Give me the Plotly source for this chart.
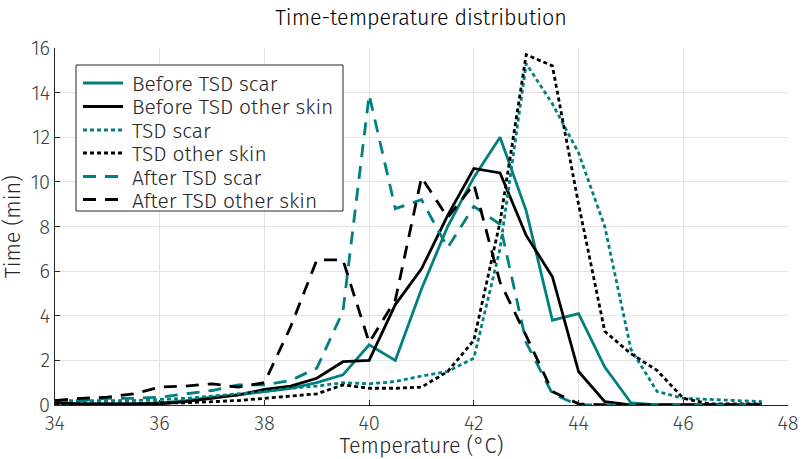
import plotly.graph_objects as go

temps = [34, 34.5, 35, 35.5, 36, 36.5, 37, 37.5, 38, 38.5, 39, 39.5, 40, 40.5,
         41, 41.5, 42, 42.5, 43, 43.5, 44, 44.5, 45, 45.5, 46, 46.5, 47, 47.5]

before_scar = [0.1, 0.05, 0.05, 0.05, 0.1, 0.2, 0.35, 0.45, 0.6, 0.75, 1.0, 1.35, 2.7, 2.0,
               5.2, 8.0, 10.2, 12.0, 8.7, 3.8, 4.1, 1.7, 0.1, 0.0, 0.0, 0.0, 0.0, 0.0]
before_other = [0.1, 0.05, 0.05, 0.05, 0.05, 0.15, 0.3, 0.45, 0.7, 0.85, 1.2, 1.94, 2.0, 4.5,
                6.1, 8.5, 10.6, 10.4, 7.6, 5.75, 1.5, 0.15, 0.0, 0.0, 0.0, 0.0, 0.0, 0.0]
tsd_scar = [0.2, 0.2, 0.2, 0.2, 0.25, 0.3, 0.4, 0.5, 0.6, 0.75, 0.85, 1.0, 0.95, 1.05,
            1.3, 1.5, 2.1, 7.0, 15.3, 13.5, 11.3, 8.0, 2.5, 0.6, 0.3, 0.25, 0.2, 0.15]
tsd_other = [0.05, 0.05, 0.05, 0.05, 0.1, 0.1, 0.15, 0.2, 0.3, 0.4, 0.5, 0.9, 0.75, 0.75,
             0.8, 1.5, 2.9, 8.2, 15.7, 15.2, 9.0, 3.3, 2.3, 1.55, 0.3, 0.05, 0.05, 0.05]
after_scar = [0.2, 0.2, 0.3, 0.3, 0.35, 0.5, 0.65, 0.9, 0.9, 1.1, 1.65, 4.2, 13.9, 8.8,
              9.2, 7.05, 8.9, 8.1, 2.8, 0.5, 0.0, 0.0, 0.0, 0.0, 0.0, 0.0, 0.0, 0.0]
after_other = [0.2, 0.3, 0.35, 0.5, 0.8, 0.85, 0.95, 0.8, 1.0, 3.5, 6.5, 6.5, 2.8, 4.7,
               10.2, 8.4, 9.9, 5.5, 3.1, 0.6, 0.05, 0.0, 0.0, 0.0, 0.0, 0.0, 0.0, 0.0]

names = ["Before TSD scar", "Before TSD other skin", "TSD scar", "TSD other skin",
         "After TSD scar", "After TSD other skin"]
series = [before_scar, before_other, tsd_scar, tsd_other, after_scar, after_other]

TEAL = "#00807f"
BLACK = "#000000"
colors = [TEAL, BLACK, TEAL, BLACK, TEAL, BLACK]
dashes = ["solid", "solid", "4px,3px", "4px,3px", "13px,9px", "13px,9px"]

FONT = "Fira Sans, Roboto, sans-serif"
TXT = "#262626"

# plot area in pixels (for converting legend layout to paper coordinates)
W, H = 802, 459
L, R, T, B = 55, 14, 48, 54
PW, PH = W - L - R, H - T - B


def px(x):
    return (x - L) / PW


def py(y):
    return (H - B - y) / PH


fig = go.Figure()
for name, ys, c, d in zip(names, series, colors, dashes):
    fig.add_trace(go.Scatter(x=temps, y=ys, mode="lines", name=name,
                             line=dict(color=c, width=2.8, dash=d),
                             showlegend=False))

# custom legend (box, line samples, labels)
shapes = [dict(type="rect", xref="paper", yref="paper",
               x0=px(76), x1=px(343), y0=py(211), y1=py(65),
               line=dict(color=TXT, width=1), fillcolor="white", layer="above")]
annotations = []
row_y = [83, 106.5, 130, 153, 176.5, 199.5]
for name, c, d, ry in zip(names, colors, dashes, row_y):
    shapes.append(dict(type="line", xref="paper", yref="paper",
                       x0=px(83), x1=px(123), y0=py(ry), y1=py(ry),
                       line=dict(color=c, width=2.8, dash=d), layer="above"))
    annotations.append(dict(text=name, xref="paper", yref="paper",
                            x=px(130), y=py(ry + 1), xanchor="left", yanchor="middle",
                            showarrow=False, height=22,
                            font=dict(family=FONT, size=21, color=TXT, weight=300)))

fig.update_layout(
    width=W, height=H,
    margin=dict(l=L, r=R, t=T, b=B, autoexpand=False),
    paper_bgcolor="white", plot_bgcolor="white",
    font=dict(family=FONT, size=19, color=TXT, weight=300),
    title=dict(text="Time-temperature distribution", x=0.525, xanchor="center",
               y=0.962, yanchor="middle",
               font=dict(size=21.5, color="#000000", weight=300)),
    shapes=shapes, annotations=annotations,
    showlegend=False,
)
fig.update_xaxes(range=[34, 48], dtick=2, tick0=34, showgrid=True, gridcolor="#e3e3e3",
                 gridwidth=1, showline=True, linecolor=TXT, linewidth=1,
                 ticks="inside", ticklen=5, tickcolor=TXT, zeroline=False,
                 automargin=False,
                 title=dict(text="Temperature (°C)", standoff=0,
                            font=dict(size=21.5, color=TXT, weight=300)),
                 tickfont=dict(size=20, color="#404040", weight=300))
fig.update_yaxes(range=[0, 16], dtick=2, tick0=0, showgrid=True, gridcolor="#e3e3e3",
                 gridwidth=1, showline=True, linecolor=TXT, linewidth=1,
                 ticks="inside", ticklen=5, tickcolor=TXT, zeroline=False,
                 automargin=False,
                 title=dict(text="Time (min)", standoff=4,
                            font=dict(size=21.5, color=TXT, weight=300)),
                 tickfont=dict(size=20, color="#404040", weight=300))

fig.write_html("out.html")
